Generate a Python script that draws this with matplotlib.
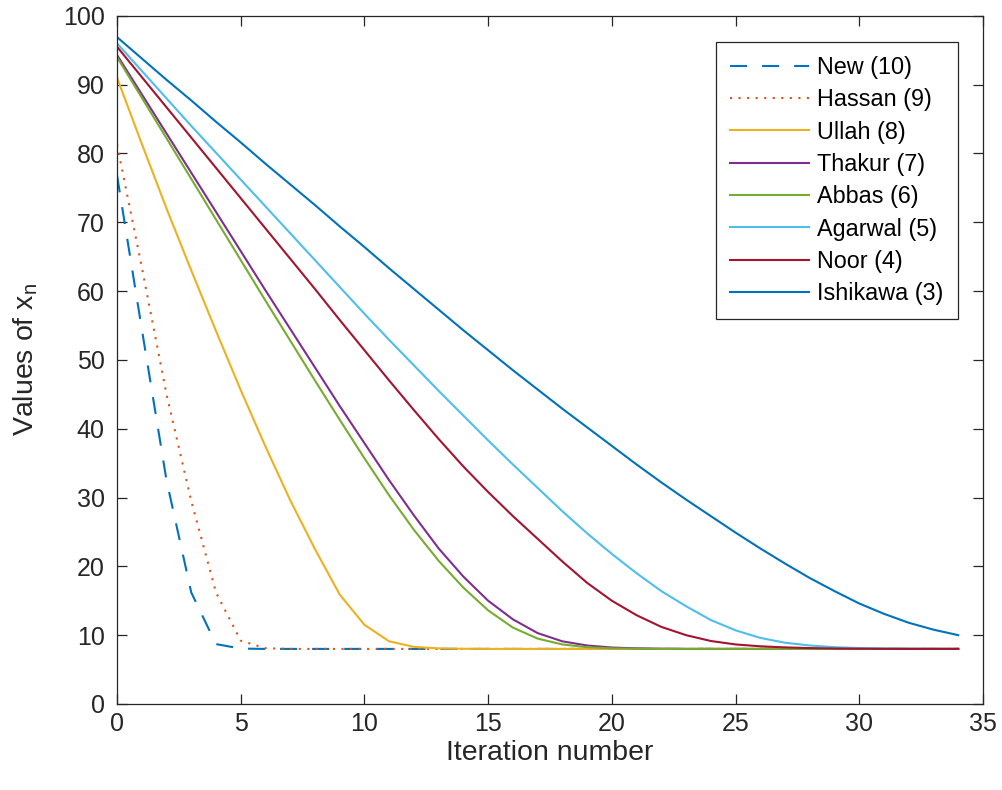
import numpy as np
import matplotlib
matplotlib.use("Agg")
import matplotlib.pyplot as plt

plt.rcParams['font.family'] = ['Liberation Sans', 'DejaVu Sans']
plt.rcParams['mathtext.default'] = 'regular'

# Iteration index
n = np.arange(0, 35)

# Values (x_n per iteration)
new_10 = [76.8, 54.5, 32.5, 16.2, 8.7, 8.05] + [8.0] * 29
hassan_9 = [81.3, 63.5, 45.0, 29.5, 16.2, 9.2, 8.1] + [8.0] * 28
ullah_8 = [91.0, 81.4, 72.0, 63.0, 54.2, 45.6, 37.4, 29.6, 22.5, 15.9,
           11.5, 9.1, 8.3, 8.08, 8.02] + [8.0] * 20
thakur_7 = [94.3, 88.6, 82.9, 77.2, 71.5, 65.8, 60.1, 54.5, 48.9, 43.3,
            37.9, 32.5, 27.4, 22.6, 18.5, 15.0, 12.3, 10.3, 9.1, 8.5,
            8.2, 8.08, 8.03] + [8.0] * 12
abbas_6 = [94.0, 88.1, 82.2, 76.3, 70.4, 64.5, 58.6, 52.8, 47.0, 41.3,
           35.7, 30.3, 25.3, 20.8, 16.9, 13.6, 11.1, 9.5, 8.65, 8.25,
           8.08, 8.03] + [8.0] * 13
agarwal_5 = [96.0, 92.0, 88.0, 84.0, 80.1, 76.2, 72.3, 68.4, 64.5, 60.6,
             56.7, 52.9, 49.2, 45.5, 41.9, 38.3, 34.8, 31.4, 28.0, 24.8,
             21.8, 19.0, 16.4, 14.2, 12.2, 10.7, 9.6, 8.9, 8.5, 8.25,
             8.12, 8.06, 8.03, 8.01, 8.0]
noor_4 = [95.5, 91.1, 86.7, 82.3, 77.9, 73.5, 69.1, 64.7, 60.3, 55.8,
          51.4, 47.0, 42.7, 38.5, 34.5, 30.8, 27.3, 24.0, 20.7, 17.6,
          15.0, 12.9, 11.2, 10.0, 9.15, 8.65, 8.38, 8.22, 8.12, 8.06,
          8.03, 8.01, 8.0, 8.0, 8.0]
ishikawa_3 = [96.9, 93.8, 90.7, 87.7, 84.6, 81.6, 78.5, 75.5, 72.5, 69.4,
              66.4, 63.3, 60.3, 57.3, 54.3, 51.4, 48.5, 45.7, 42.9, 40.2,
              37.5, 34.8, 32.2, 29.7, 27.3, 24.9, 22.6, 20.4, 18.3, 16.4,
              14.6, 13.1, 11.8, 10.8, 10.0]

labels = ['New (10)', 'Hassan (9)', 'Ullah (8)', 'Thakur (7)',
          'Abbas (6)', 'Agarwal (5)', 'Noor (4)', 'Ishikawa (3)']

# MATLAB default colour order
azul = '#0072BD'
naranja = '#D95319'
amarillo = '#EDB120'
morado = '#7E2F8E'
verde = '#77AC30'
celeste = '#4DBEEE'
rojo = '#A2142F'

series = [new_10, hassan_9, ullah_8, thakur_7, abbas_6, agarwal_5, noor_4, ishikawa_3]
colors = [azul, naranja, amarillo, morado, verde, celeste, rojo, azul]
styles = [(0, (8.2, 7.2)), (0, (1, 3.1)), '-', '-', '-', '-', '-', '-']

fig = plt.figure(figsize=(10.02, 7.9), dpi=100)
ax = fig.add_axes([0.1168, 0.1089, 0.8642, 0.8711])

for y, c, ls, lab in zip(series, colors, styles, labels):
    ax.plot(n, y, linestyle=ls, color=c, linewidth=1.5, label=lab)

gris = '#262626'
ax.set_xlim(0, 35)
ax.set_ylim(0, 100)
ax.set_xticks(np.arange(0, 36, 5))
ax.set_yticks(np.arange(0, 101, 10))
ax.tick_params(direction='in', length=7.5, width=0.9, colors=gris,
               labelsize=18, top=True, right=True)
ax.tick_params(axis='y', pad=9)
ax.tick_params(axis='x', pad=6)
for s in ax.spines.values():
    s.set_color(gris)
    s.set_linewidth(0.9)

ax.set_xlabel('Iteration number', fontsize=20.5, color=gris, labelpad=3)
ax.set_ylabel('Values of x$_n$', fontsize=20.5, color=gris, labelpad=16)

leg = ax.legend(loc='upper right', bbox_to_anchor=(0.971, 0.962),
                borderaxespad=0, fontsize=16.8, handlelength=3.4,
                handletextpad=0.35, labelspacing=0.4, borderpad=0.6,
                fancybox=False, framealpha=1)
leg.get_frame().set_edgecolor(gris)
leg.get_frame().set_linewidth(0.9)

fig.savefig('out.png', dpi=100)
